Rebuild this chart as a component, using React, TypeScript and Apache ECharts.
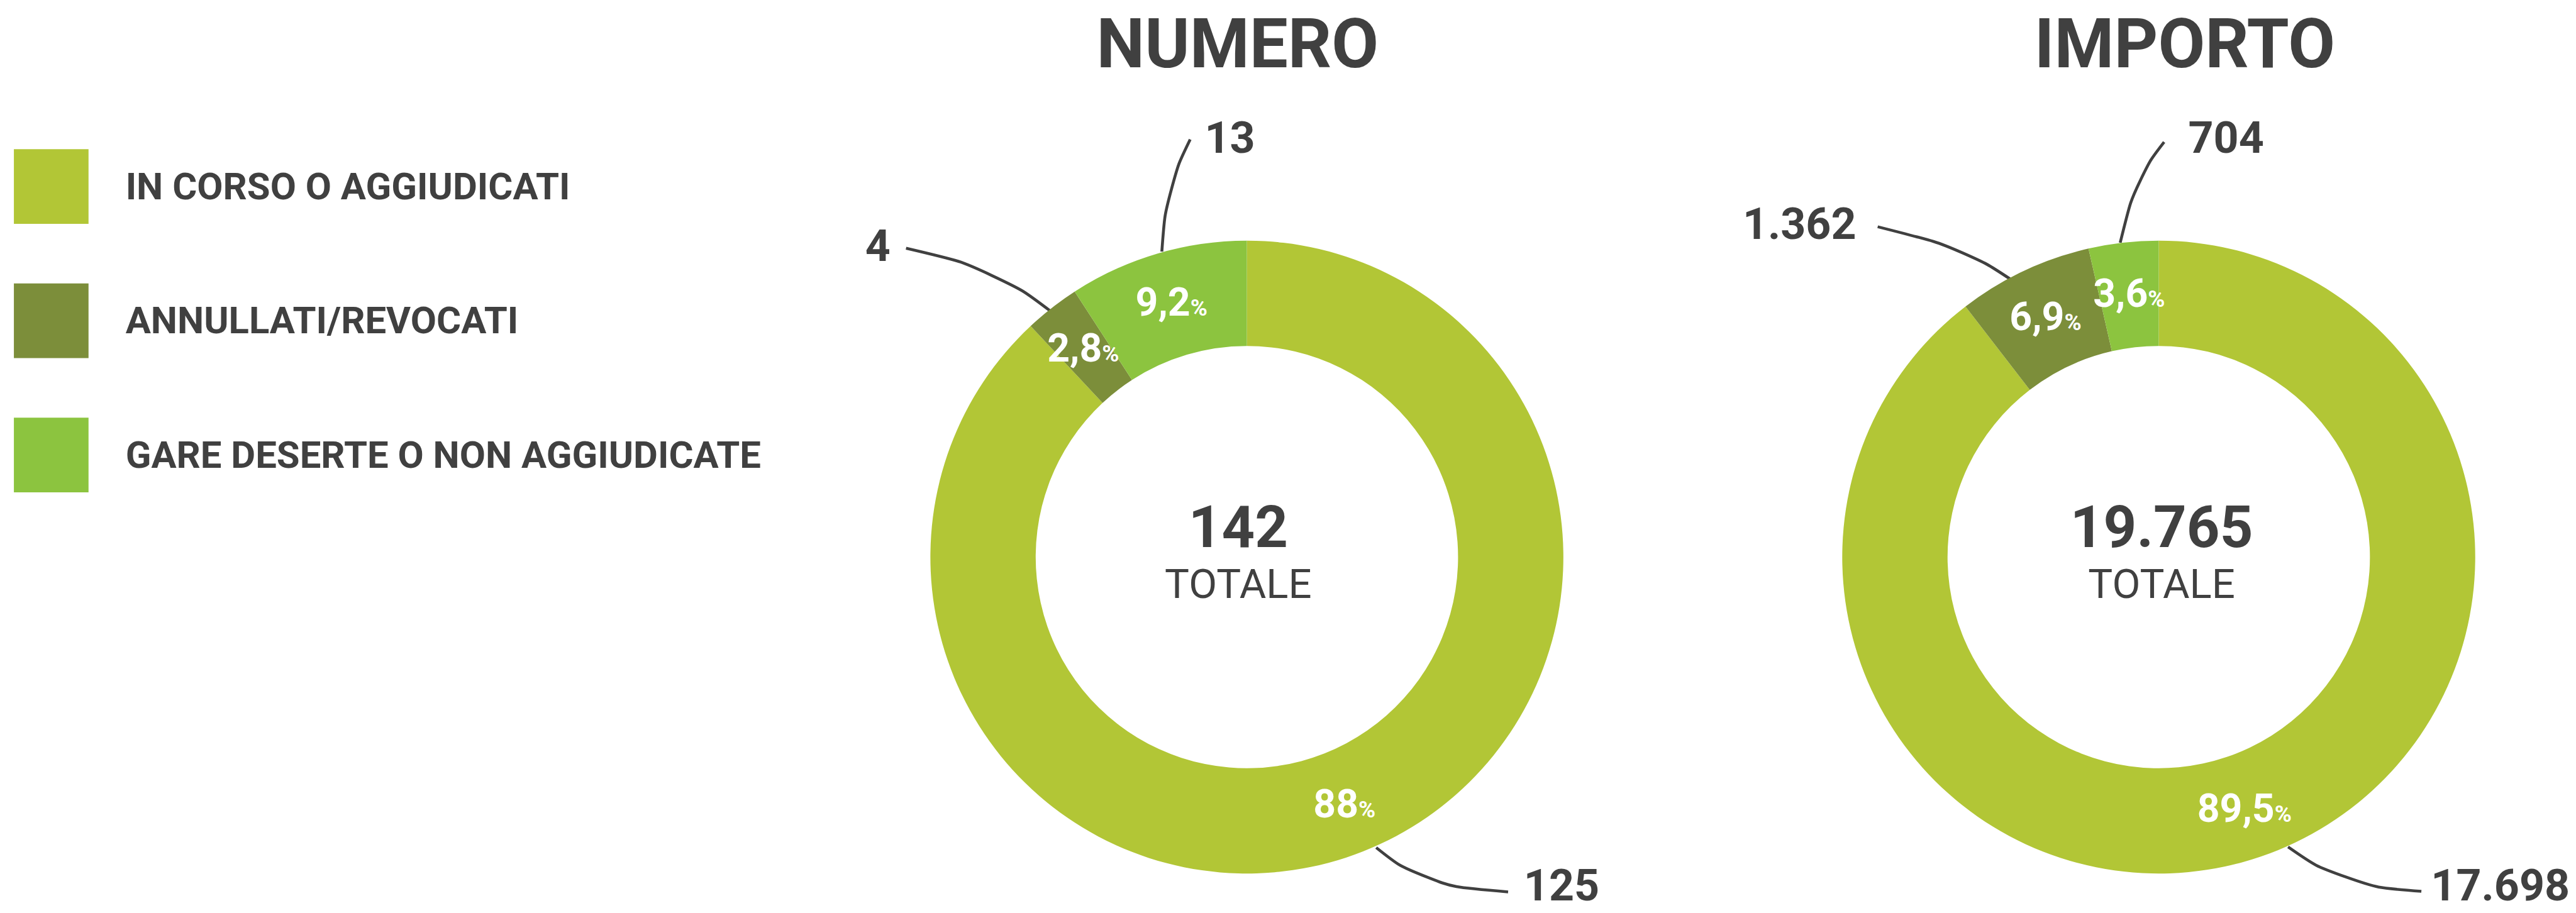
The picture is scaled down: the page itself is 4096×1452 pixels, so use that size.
import React, { useEffect, useRef } from 'react';
import * as echarts from 'echarts';

// ---------------- DATA ----------------
const CATEGORIES = ['IN CORSO O AGGIUDICATI', 'ANNULLATI/REVOCATI', 'GARE DESERTE O NON AGGIUDICATE'];
const NUMERO_VALUES = [125, 4, 13];
const IMPORTO_VALUES = [17698, 1362, 704];
const NUMERO_PCT = ['88', '2,8', '9,2'];
const IMPORTO_PCT = ['89,5', '6,9', '3,6'];
const TITLES = ['NUMERO', 'IMPORTO'];
const TOTALS = ['142', '19.765'];
const TOTAL_LABEL = 'TOTALE';

// ---------------- STYLE / LAYOUT (reference px, scaled by K) ----------------
const K = 0.92;
const W = 4096;
const H = 1452;
const COLORS = ['#B2C636', '#7C8E3A', '#8CC43F'];
const INK = '#404040';
const FONT = 'Roboto, "Noto Sans", sans-serif';

const R_IN = 365;
const R_OUT = 547;
const DONUTS = [
  { cx: 2155, cy: 963, textX: 2140, titleX: 2139 },
  { cx: 3731, cy: 963, textX: 3736, titleX: 3776 },
];

// leader line shapes, relative to the pie's own label anchor (outer edge, mid angle)
type Leader = { p: number[][]; l: number[]; a: 'left' | 'right' };
const LEADERS: Leader[][] = [
  [
    { p: [[22.6, -6.6], [103.6, 58], [250.6, 70]], l: [277.6, 59], a: 'left' },
    { p: [[-2.1, 5.9], [-98.1, -67.1], [-252.1, -103.1]], l: [-279.1, -107.1], a: 'right' },
    { p: [[8.2, -3.5], [16.2, -113.5], [57.2, -197.5]], l: [82.2, -200.5], a: 'left' },
  ],
  [
    { p: [[47.1, -16.7], [142.5, 50], [277.5, 60]], l: [534, 50], a: 'right' },
    { p: [[-24, 13.9], [-102.8, -38.2], [-252.6, -76.2]], l: [-289.6, -81], a: 'right' },
    { p: [[-5.5, 0.2], [22.1, -111.4], [70.4, -173.9]], l: [112.1, -181.7], a: 'left' },
  ],
];

const s = (v: number) => v * K;
const fmtIt = (v: number) => String(v).replace(/\B(?=(\d{3})+(?!\d))/g, '.');

function anchorFallback(values: number[], idx: number, d: number) {
  const total = values.reduce((a, b) => a + b, 0);
  let before = 0;
  for (let i = 0; i < idx; i++) before += values[i];
  const mid = ((before + values[idx] / 2) / total) * Math.PI * 2;
  const { cx, cy } = DONUTS[d];
  return [s(cx) + Math.sin(mid) * s(R_OUT), s(cy) - Math.cos(mid) * s(R_OUT)];
}

function ringSeries(d: number, values: number[], pct: string[]) {
  const { cx, cy } = DONUTS[d];
  return {
    type: 'pie',
    center: [s(cx), s(cy)],
    radius: [s(R_IN), s(R_OUT)],
    startAngle: 90,
    clockwise: true,
    silent: true,
    avoidLabelOverlap: false,
    emphasis: { disabled: true },
    data: values.map((v, i) => ({ name: CATEGORIES[i], value: v, itemStyle: { color: COLORS[i] } })),
    label: {
      show: true,
      position: 'inside',
      formatter: (p: any) => `{n|${pct[p.dataIndex]}}{p|%}`,
      rich: {
        n: { fontSize: s(68), fontWeight: 'bold', color: '#ffffff', fontFamily: FONT },
        p: {
          fontSize: s(40),
          fontWeight: 'bold',
          color: '#ffffff',
          fontFamily: FONT,
          verticalAlign: 'bottom',
          padding: [0, 0, 4, 0],
        },
      },
    },
    labelLine: { show: false },
  };
}

function valueSeries(d: number, values: number[]) {
  const { cx, cy } = DONUTS[d];
  return {
    type: 'pie',
    center: [s(cx), s(cy)],
    radius: [s(R_IN), s(R_OUT)],
    startAngle: 90,
    clockwise: true,
    silent: true,
    avoidLabelOverlap: false,
    emphasis: { disabled: true },
    data: values.map((v, i) => ({ name: CATEGORIES[i], value: v, itemStyle: { color: 'rgba(0,0,0,0)' } })),
    label: {
      show: true,
      position: 'outside',
      formatter: (p: any) => fmtIt(p.value),
      color: INK,
      fontSize: s(76),
      lineHeight: s(60),
      fontWeight: 'bold',
      fontFamily: FONT,
    },
    labelLine: {
      show: true,
      length: 30,
      length2: 30,
      smooth: 0.5,
      lineStyle: { color: INK, width: s(5) },
    },
    labelLayout: (params: any) => {
      const cfg = LEADERS[d][params.dataIndex];
      const lp = params.labelLinePoints;
      const anchor = lp && lp[0] ? [lp[0][0], lp[0][1]] : anchorFallback(values, params.dataIndex, d);
      const pts = cfg.p.map(([dx, dy]) => [anchor[0] + s(dx), anchor[1] + s(dy)]);
      return {
        x: anchor[0] + s(cfg.l[0]),
        y: anchor[1] + s(cfg.l[1]),
        align: cfg.a,
        verticalAlign: 'middle',
        labelLinePoints: pts,
      };
    },
  };
}

function textEl(text: string, x: number, y: number, size: number, weight: any) {
  return {
    type: 'text',
    x: s(x),
    y: s(y),
    silent: true,
    style: {
      text,
      fontSize: s(size),
      fontWeight: weight,
      fontFamily: FONT,
      fill: INK,
      align: 'center',
      verticalAlign: 'middle',
      textAlign: 'center',
      textVerticalAlign: 'middle',
    },
  };
}

export default function App() {
  const ref = useRef<HTMLDivElement>(null);

  useEffect(() => {
    if (!ref.current) return;
    const chart = echarts.init(ref.current, null, { renderer: 'svg' });
    const graphics: any[] = [];
    DONUTS.forEach((dn, d) => {
      graphics.push(textEl(TITLES[d], dn.titleX, 76.5, 118, 'bold'));
      graphics.push(textEl(TOTALS[d], dn.textX, 911.5, 100, 'bold'));
      graphics.push(textEl(TOTAL_LABEL, dn.textX, 1009, 71, 'normal'));
    });

    chart.setOption({
      animation: false,
      backgroundColor: '#ffffff',
      textStyle: { fontFamily: FONT },
      legend: {
        orient: 'vertical',
        left: s(24),
        top: s(258),
        padding: 0,
        itemWidth: s(129),
        itemHeight: s(129),
        itemGap: s(232) - s(129),
        icon: 'rect',
        selectedMode: false,
        data: CATEGORIES.map((n, i) => ({ name: n, itemStyle: { color: COLORS[i] } })),
        textStyle: {
          fontSize: s(65),
          fontWeight: 'bold',
          color: INK,
          fontFamily: FONT,
          padding: [0, 0, 0, s(217) - s(153) - 5],
        },
      },
      graphic: { elements: graphics },
      series: [
        ringSeries(0, NUMERO_VALUES, NUMERO_PCT),
        valueSeries(0, NUMERO_VALUES),
        ringSeries(1, IMPORTO_VALUES, IMPORTO_PCT),
        valueSeries(1, IMPORTO_VALUES),
      ],
    });
    return () => chart.dispose();
  }, []);

  return (
    <div
      ref={ref}
      style={{ position: 'absolute', left: 0, top: 0, width: W, height: H, background: '#ffffff' }}
    />
  );
}
